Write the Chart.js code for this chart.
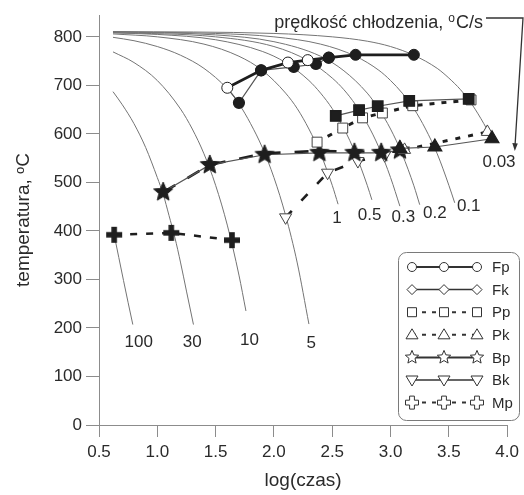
<!DOCTYPE html>
<html><head><meta charset="utf-8">
<script src="https://cdn.jsdelivr.net/npm/chart.js@4.4.1/dist/chart.umd.min.js"></script>
<style>html,body{margin:0;padding:0;background:#fff;}canvas{display:block}</style>
</head><body>
<canvas id="c" width="524" height="495"></canvas>
<script>
// ---------- data (log(time), temperature) ----------
const xTicks = [0.5, 1.0, 1.5, 2.0, 2.5, 3.0, 3.5, 4.0];
const yTicks = [0, 100, 200, 300, 400, 500, 600, 700, 800];

const rateLabels = ['100', '30', '10', '5', '1', '0.5', '0.3', '0.2', '0.1', '0.03'];
const curve100 = [[0.63,392],[0.67,345],[0.71,298],[0.75,252],[0.79,207]];
const curve30  = [[0.62,687],[0.70,660],[0.80,621],[0.90,572],[1.00,510],[1.05,476],[1.10,432],[1.15,387],[1.20,334],[1.25,276],[1.31,207]];
const curve10  = [[0.62,769],[0.80,747],[1.00,710],[1.20,651],[1.30,610],[1.40,559],[1.50,494],[1.60,412],[1.70,309],[1.76,235]];
const curve5   = [[0.62,799],[0.80,792],[1.00,780],[1.20,762],[1.40,735],[1.60,693],[1.70,662],[1.80,621],[1.90,572],[2.00,510],[2.10,432],[2.20,334],[2.30,208]];
const curve1   = [[0.62,806],[1.00,800],[1.40,785],[1.70,760],[1.90,731],[2.10,684],[2.20,652],[2.30,610],[2.40,559],[2.50,494],[2.55,455]];
const curve05  = [[0.62,808],[1.00,805],[1.50,794],[1.90,770],[2.10,747],[2.30,710],[2.40,684],[2.50,652],[2.60,611],[2.70,559],[2.80,494],[2.84,464]];
const curve03  = [[0.62,809],[1.50,800],[2.00,780],[2.30,750],[2.50,715],[2.60,691],[2.70,660],[2.80,621],[2.90,572],[3.00,510],[3.08,451]];
const curve02  = [[0.62,810],[1.50,804],[2.00,790],[2.40,760],[2.60,730],[2.80,684],[2.90,651],[3.00,610],[3.10,558],[3.20,493],[3.25,454]];
const curve01  = [[0.62,810],[1.50,807],[2.00,800],[2.40,785],[2.70,760],[2.90,731],[3.00,710],[3.10,684],[3.20,652],[3.30,610],[3.40,559],[3.50,494],[3.55,458]];
const curve003 = [[0.62,811],[2.00,807],[2.50,800],[2.80,791],[3.00,780],[3.20,762],[3.40,735],[3.50,715],[3.60,691],[3.70,660],[3.80,621],[3.87,590]];

const seriesLabels = ['Fp', 'Fk', 'Pp', 'Pk', 'Bp', 'Bk', 'Mp'];
const FpData   = [[1.60,695],[1.89,731],[2.12,747],[2.29,752],[2.47,757],[2.70,763],[3.20,763]];
const FkData   = [[1.60,695],[1.70,664],[1.89,731],[2.17,738],[2.36,744],[2.47,757]];
const PpData   = [[2.37,583],[2.59,612],[2.76,633],[2.93,643],[3.19,658],[3.69,670]];
const PpFilled = [[2.53,637],[2.73,649],[2.89,657],[3.16,668],[3.67,672]];
const PkData   = [[3.12,567],[3.83,604]];
const PkFilled = [[3.08,570],[3.38,573],[3.87,590]];
const BpData   = [[1.05,480],[1.45,536],[1.92,557],[2.39,561],[2.69,561],[2.92,561],[3.08,566]];
const BpDashed = [[1.05,480],[1.45,536],[1.92,560],[2.39,565],[2.69,563],[2.92,563]];
const BkData   = [[2.10,428],[2.46,520],[2.72,544],[2.95,556]];
const MpData   = [[0.63,392],[1.12,396],[1.64,381]];

// ---------- styling helpers ----------
const FONT = '"Liberation Sans", Arial, sans-serif';
Chart.defaults.font.family = FONT;
const INK = '#1e1e1e', AXIS = '#8c8c8c', CURVE = '#747474', TEXT = '#2a2a2a';
const toPts = a => a.map(p => ({x: p[0], y: p[1]}));

function starPath(g, cx, cy, r) {
  g.beginPath();
  for (let i = 0; i < 10; i++) {
    const rr = i % 2 ? r * 0.45 : r;
    const a = -Math.PI / 2 + i * Math.PI / 5;
    g.lineTo(cx + rr * Math.cos(a), cy + rr * Math.sin(a));
  }
  g.closePath();
}
function crossPath(g, cx, cy, L, w) {
  g.beginPath();
  g.moveTo(cx - w, cy - L); g.lineTo(cx + w, cy - L); g.lineTo(cx + w, cy - w);
  g.lineTo(cx + L, cy - w); g.lineTo(cx + L, cy + w); g.lineTo(cx + w, cy + w);
  g.lineTo(cx + w, cy + L); g.lineTo(cx - w, cy + L); g.lineTo(cx - w, cy + w);
  g.lineTo(cx - L, cy + w); g.lineTo(cx - L, cy - w); g.lineTo(cx - w, cy - w);
  g.closePath();
}
function makeIcon(size, draw) {
  const c = document.createElement('canvas');
  c.width = size; c.height = size;
  draw(c.getContext('2d'), size / 2);
  return c;
}
const starIcon = makeIcon(22, (g, m) => { starPath(g, m, m, 10); g.fillStyle = INK; g.fill(); g.strokeStyle = INK; g.stroke(); });
const crossIcon = makeIcon(20, (g, m) => { crossPath(g, m, m, 8, 2.8); g.fillStyle = INK; g.fill(); });

// ---------- datasets ----------
const curveSets = [curve100, curve30, curve10, curve5, curve1, curve05, curve03, curve02, curve01, curve003];
const curveDatasets = curveSets.map((c, i) => ({
  label: 'v = ' + rateLabels[i] + ' °C/s', data: toPts(c), showLine: true,
  borderColor: CURVE, borderWidth: 1, pointRadius: 0, cubicInterpolationMode: 'monotone', order: 10
}));
const FpOpen = [true, false, true, true, false, false, false];

const datasets = [
  {label: seriesLabels[6], data: toPts(MpData), showLine: true, borderColor: INK, borderWidth: 2.5, borderDash: [7, 9],
   pointStyle: crossIcon, pointRadius: 8, order: 1},
  {label: seriesLabels[0], data: toPts(FpData), showLine: true, borderColor: INK, borderWidth: 2.8,
   pointStyle: 'circle', pointRadius: 5.5, pointBorderColor: INK, pointBorderWidth: 1,
   pointBackgroundColor: FpOpen.map(o => o ? '#fff' : INK), order: 2},
  {label: seriesLabels[1], data: toPts(FkData), showLine: true, borderColor: '#555', borderWidth: 1.2,
   pointStyle: 'circle', pointRadius: FkData.map((p, i) => i === 0 ? 0 : 5.5), pointBackgroundColor: INK, pointBorderColor: INK, order: 3},
  {label: seriesLabels[2], data: toPts(PpData), showLine: true, borderColor: INK, borderWidth: 3, borderDash: [5, 7],
   pointStyle: 'rect', pointRadius: 7, pointBackgroundColor: '#fff', pointBorderColor: '#444', pointBorderWidth: 1, order: 5},
  {label: seriesLabels[2] + ' (pełne)', data: toPts(PpFilled), showLine: true, borderColor: '#555', borderWidth: 1.2,
   pointStyle: 'rect', pointRadius: 7.5, pointBackgroundColor: INK, pointBorderColor: INK, order: 4},
  {label: seriesLabels[3], data: toPts(PkData), showLine: true, borderColor: INK, borderWidth: 3, borderDash: [5, 8],
   pointStyle: 'triangle', pointRadius: 7, pointBackgroundColor: '#fff', pointBorderColor: '#444', pointBorderWidth: 1, order: 7},
  {label: seriesLabels[3] + ' (pełne)', data: toPts(PkFilled), showLine: true, borderColor: '#555', borderWidth: 1.2,
   pointStyle: 'triangle', pointRadius: 8, pointBackgroundColor: INK, pointBorderColor: INK, order: 6},
  {label: seriesLabels[4], data: toPts(BpData), showLine: true, borderColor: '#555', borderWidth: 1.2,
   pointStyle: starIcon, pointRadius: 10, order: 8},
  {label: seriesLabels[4] + ' (przerywana)', data: toPts(BpDashed), showLine: true, borderColor: INK, borderWidth: 2.6, borderDash: [14, 14],
   pointRadius: 0, order: 9},
  {label: seriesLabels[5], data: toPts(BkData), showLine: true, borderColor: INK, borderWidth: 2.6, borderDash: [9, 14],
   pointStyle: 'triangle', pointRotation: 180, pointRadius: 7, pointBackgroundColor: '#fff', pointBorderColor: '#444', pointBorderWidth: 1, order: 9},
  ...curveDatasets
];

// ---------- overlay plugin: curve labels, annotation, legend ----------
const rateLabelAnchors = [[0.84,171],[1.30,171],[1.79,175],[2.32,169],[2.54,427],[2.82,433],[3.11,429],[3.38,437],[3.67,450],[3.93,542]];

function legendMarker(g, type, x, y) {
  g.save();
  g.fillStyle = '#fff'; g.strokeStyle = '#333'; g.lineWidth = 1; g.setLineDash([]);
  g.beginPath();
  if (type === 'circle') g.arc(x, y, 4.5, 0, Math.PI * 2);
  else if (type === 'diamond') { g.moveTo(x, y - 5); g.lineTo(x + 5, y); g.lineTo(x, y + 5); g.lineTo(x - 5, y); g.closePath(); }
  else if (type === 'square') g.rect(x - 4.5, y - 4.5, 9, 9);
  else if (type === 'triangle') { g.moveTo(x, y - 6); g.lineTo(x + 6, y + 4); g.lineTo(x - 6, y + 4); g.closePath(); }
  else if (type === 'triangleDown') { g.moveTo(x - 6, y - 4); g.lineTo(x + 6, y - 4); g.lineTo(x, y + 6); g.closePath(); }
  else if (type === 'star') starPath(g, x, y, 7);
  else if (type === 'cross') crossPath(g, x, y, 6.5, 2.4);
  g.fill(); g.stroke();
  g.restore();
}

const overlay = {
  id: 'overlay',
  afterDraw(chart) {
    const g = chart.ctx, xs = chart.scales.x, ys = chart.scales.y;
    g.save();
    // cooling-rate labels
    g.fillStyle = TEXT; g.font = '17px ' + FONT; g.textAlign = 'center'; g.textBaseline = 'middle';
    rateLabels.forEach((t, i) => {
      const a = rateLabelAnchors[i];
      g.fillText(t, xs.getPixelForValue(a[0]), ys.getPixelForValue(a[1]));
    });
    // annotation "prędkość chłodzenia, oC/s"
    const t1 = 'prędkość chłodzenia, ', t3 = 'C/s';
    g.textAlign = 'left'; g.textBaseline = 'alphabetic';
    g.font = '18px ' + FONT; const w1 = g.measureText(t1).width, w3 = g.measureText(t3).width;
    g.font = '12px ' + FONT; const w2 = g.measureText('o').width;
    const endX = 483, base = 28, startX = endX - (w1 + w2 + 1 + w3);
    g.font = '18px ' + FONT; g.fillText(t1, startX, base);
    g.font = '12px ' + FONT; g.fillText('o', startX + w1, base - 6);
    g.font = '18px ' + FONT; g.fillText(t3, startX + w1 + w2 + 1, base);
    g.strokeStyle = '#333'; g.lineWidth = 1.3;
    g.beginPath(); g.moveTo(endX + 3, 18); g.lineTo(523, 18); g.lineTo(515, 146); g.stroke();
    g.fillStyle = '#333';
    g.beginPath(); g.moveTo(514.8, 151); g.lineTo(512.3, 143); g.lineTo(517.8, 143.4); g.closePath(); g.fill();
    // legend
    const bx = 398, by = 252, bw = 121, bh = 168;
    g.strokeStyle = '#7a7a7a'; g.lineWidth = 1;
    g.beginPath(); g.roundRect(bx + 0.5, by + 0.5, bw, bh, 8); g.stroke();
    const types = ['circle', 'diamond', 'square', 'triangle', 'star', 'triangleDown', 'cross'];
    const dashes = [[], [], [4, 6], [4, 6], [], [], [4, 6]];
    const widths = [2, 1.5, 2, 2, 2, 1.5, 2];
    const mx = [412, 444, 477];
    seriesLabels.forEach((lab, i) => {
      const y = 267 + i * 22.6;
      g.save();
      g.strokeStyle = '#333'; g.lineWidth = widths[i]; g.setLineDash(dashes[i]);
      g.beginPath(); g.moveTo(mx[0], y); g.lineTo(mx[2], y); g.stroke();
      g.restore();
      mx.forEach(x => legendMarker(g, types[i], x, y));
      g.fillStyle = TEXT; g.font = '15px ' + FONT; g.textAlign = 'left'; g.textBaseline = 'middle';
      g.fillText(lab, 492, y + 1);
    });
    g.restore();
  }
};

new Chart(document.getElementById('c'), {
  type: 'scatter',
  data: {datasets},
  options: {
    responsive: false, animation: false, events: [],
    layout: {padding: {left: 0, right: 16, top: 15, bottom: 0}},
    plugins: {legend: {display: false}, tooltip: {enabled: false}},
    scales: {
      x: {
        type: 'linear', min: 0.5, max: 4.0,
        afterBuildTicks: s => { s.ticks = xTicks.map(v => ({value: v})); },
        afterFit: s => { s.height = 70; },
        grid: {drawOnChartArea: false, drawTicks: true, tickLength: 12, color: AXIS},
        border: {color: AXIS, width: 1},
        ticks: {color: TEXT, font: {size: 17}, padding: 5, autoSkip: false, maxRotation: 0, callback: v => Number(v).toFixed(1)},
        title: {display: true, text: 'log(czas)', color: TEXT, font: {size: 19}, padding: {top: 0, bottom: 3}}
      },
      y: {
        type: 'linear', min: 0, max: 845,
        afterBuildTicks: s => { s.ticks = yTicks.map(v => ({value: v})); },
        afterFit: s => { s.width = 99; },
        grid: {drawOnChartArea: false, drawTicks: true, tickLength: 13, color: AXIS},
        border: {color: AXIS, width: 1},
        ticks: {color: TEXT, font: {size: 17}, padding: 4},
        title: {display: true, text: 'temperatura, ᵒC', color: TEXT, font: {size: 19}, padding: {top: 12}}
      }
    }
  },
  plugins: [overlay]
});
</script>
</body></html>
